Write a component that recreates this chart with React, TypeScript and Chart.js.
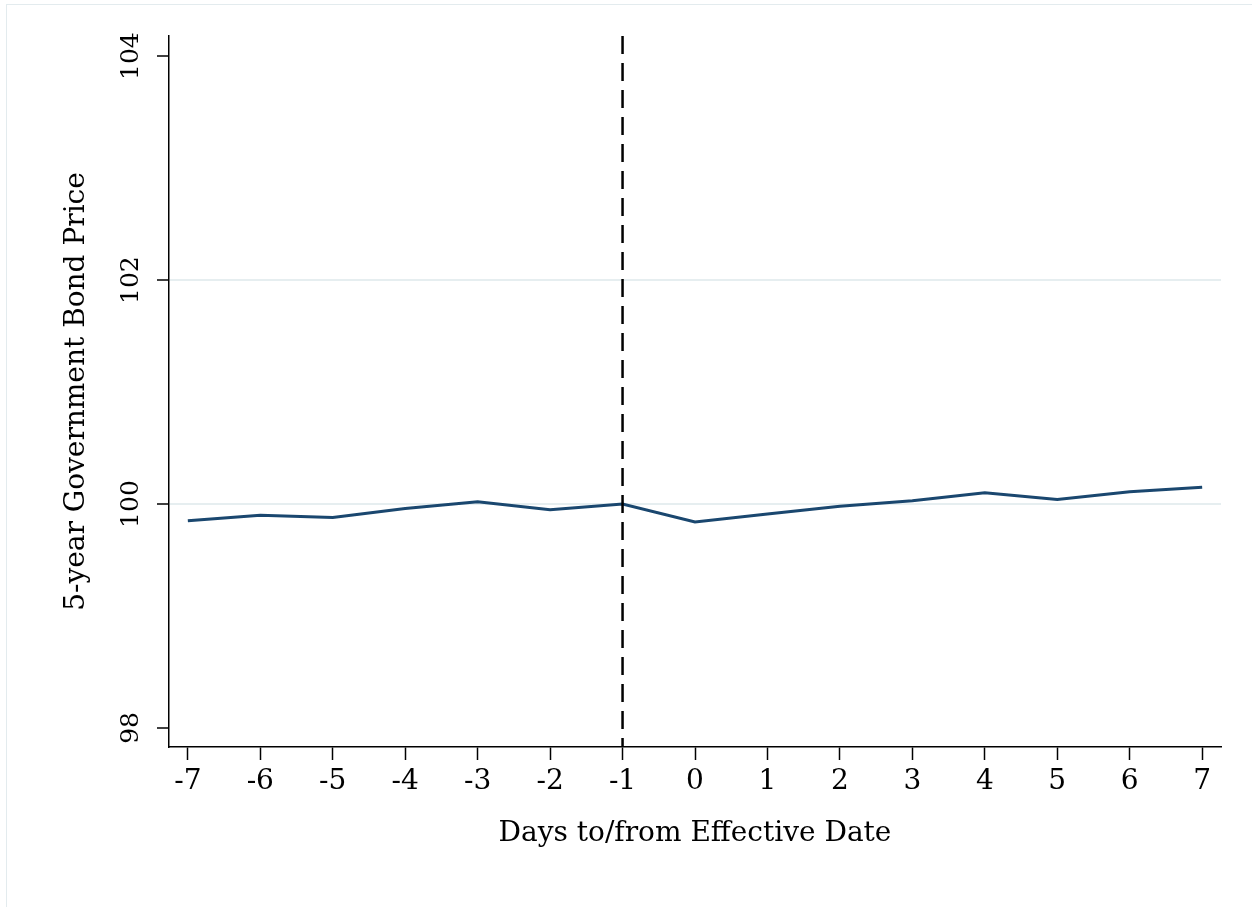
import React, { useEffect, useRef } from "react";
import { Chart, registerables } from "chart.js";

Chart.register(...registerables);

const days = [-7, -6, -5, -4, -3, -2, -1, 0, 1, 2, 3, 4, 5, 6, 7];
const bondPrice = [99.85, 99.9, 99.88, 99.96, 100.02, 99.95, 100.0, 99.84, 99.91, 99.98, 100.03, 100.1, 100.04, 100.11, 100.15];
const yTicks = [98, 100, 102, 104];
const xTicks = [-7, -6, -5, -4, -3, -2, -1, 0, 1, 2, 3, 4, 5, 6, 7];
const gridValues = [100, 102];
const eventDay = -1;
const xTitle = "Days to/from Effective Date";
const yTitle = "5-year Government Bond Price";

const FONT = "'DejaVu Serif', 'Liberation Serif', serif";

export default function App() {
  const canvasRef = useRef<HTMLCanvasElement | null>(null);

  useEffect(() => {
    const canvas = canvasRef.current;
    if (!canvas) return;

    const overlay = {
      id: "overlay",
      afterDatasetsDraw(chart: any) {
        const { ctx, chartArea, scales } = chart;
        const x = scales.x.getPixelForValue(eventDay);
        ctx.save();
        ctx.strokeStyle = "#000";
        ctx.lineWidth = 2.5;
        ctx.setLineDash([18, 9]);
        ctx.beginPath();
        ctx.moveTo(x, chartArea.top);
        ctx.lineTo(x, chartArea.bottom);
        ctx.stroke();
        ctx.restore();
      },
      afterDraw(chart: any) {
        const { ctx, scales } = chart;
        ctx.save();
        ctx.fillStyle = "#000";
        ctx.font = `25px ${FONT}`;
        ctx.textAlign = "center";
        ctx.textBaseline = "middle";
        for (const v of yTicks) {
          const y = scales.y.getPixelForValue(v);
          ctx.save();
          ctx.translate(131, y);
          ctx.rotate(-Math.PI / 2);
          ctx.fillText(String(v), 0, 0);
          ctx.restore();
        }
        ctx.restore();
      },
    };

    const chart = new Chart(canvas, {
      type: "line",
      data: {
        datasets: [
          {
            data: days.map((d, i) => ({ x: d, y: bondPrice[i] })),
            borderColor: "#1a476f",
            borderWidth: 3,
            pointRadius: 0,
            tension: 0,
            fill: false,
          },
        ],
      },
      options: {
        animation: false,
        responsive: false,
        maintainAspectRatio: false,
        layout: { padding: { left: 0, right: 31, top: 36, bottom: 0 } },
        plugins: { legend: { display: false }, tooltip: { enabled: false } },
        scales: {
          x: {
            type: "linear",
            min: -7.26,
            max: 7.26,
            afterBuildTicks: (scale: any) => {
              scale.ticks = xTicks.map((v) => ({ value: v }));
            },
            afterFit: (scale: any) => {
              scale.height = 160;
            },
            border: { color: "#000", width: 1.5 },
            grid: {
              drawOnChartArea: false,
              drawTicks: true,
              tickLength: 13,
              tickColor: "#000",
              tickWidth: 1.5,
            },
            ticks: {
              color: "#000",
              font: { family: FONT, size: 28 },
              padding: 5,
              maxRotation: 0,
              minRotation: 0,
              autoSkip: false,
              callback: (v: any) => String(v),
            },
            title: {
              display: true,
              text: xTitle,
              color: "#000",
              font: { family: FONT, size: 28 },
              padding: { top: 0, bottom: 56 },
            },
          },
          y: {
            type: "linear",
            min: 97.83,
            max: 104.18,
            afterBuildTicks: (scale: any) => {
              scale.ticks = yTicks.map((v) => ({ value: v }));
            },
            afterFit: (scale: any) => {
              scale.width = 169;
            },
            border: { color: "#000", width: 1.5 },
            grid: {
              color: (c: any) =>
                c.tick && gridValues.includes(c.tick.value) ? "#e6eef0" : "rgba(0,0,0,0)",
              lineWidth: 2,
              drawTicks: true,
              tickLength: 12,
              tickColor: "#000",
              tickWidth: 1.5,
            },
            ticks: {
              color: "rgba(0,0,0,0)",
              font: { family: FONT, size: 25 },
            },
            title: {
              display: true,
              text: yTitle,
              color: "#000",
              font: { family: FONT, size: 28 },
              padding: { top: 60, bottom: 0 },
            },
          },
        },
      },
      plugins: [overlay],
    });

    return () => chart.destroy();
  }, []);

  return (
    <div style={{ position: "absolute", left: 0, top: 0, width: 1252, height: 907, background: "#fff" }}>
      <div
        style={{
          position: "absolute",
          left: 6,
          top: 4,
          right: 0,
          bottom: 0,
          borderLeft: "1px solid #e3ebee",
          borderTop: "1px solid #e3ebee",
        }}
      />
      <canvas
        ref={canvasRef}
        width={1252}
        height={907}
        style={{ position: "absolute", left: 0, top: 0, width: 1252, height: 907 }}
      />
    </div>
  );
}
